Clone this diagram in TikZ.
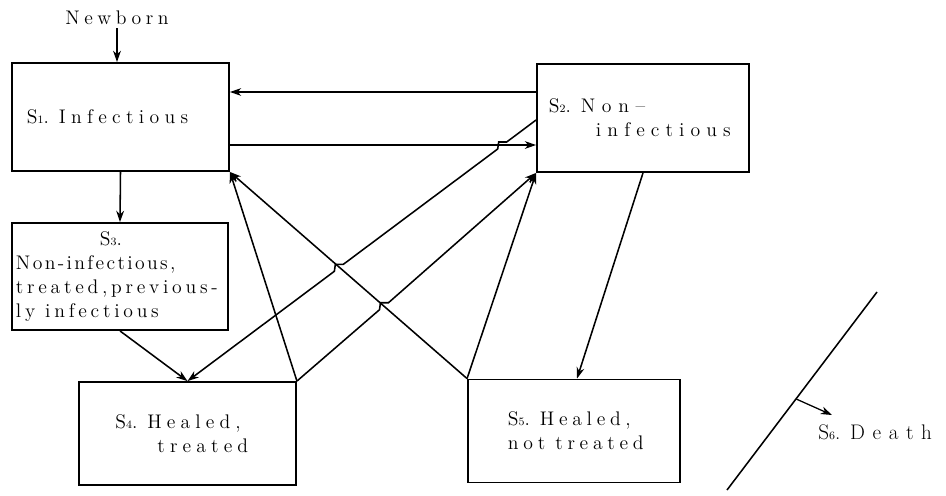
\documentclass[tikz,border=0pt]{standalone}
\usepackage{fontspec}
\setmainfont{Latin Modern Roman}
\usetikzlibrary{arrows.meta,calc}
\hyphenpenalty=10000
\exhyphenpenalty=10000
\newcommand{\sname}[1]{S{\footnotesize #1}}
\newcommand{\spc}[1]{\addfontfeatures{LetterSpace=#1}}
\protected\def\lblfont#1{\fontsize{14}{17}\selectfont\addfontfeatures{LetterSpace=#1}%
	\spaceskip=7pt\relax\xspaceskip=7pt\relax}
\tikzset{
	lbl/.style={inner sep=0pt, font=\lblfont{#1}},
	lbl/.default=20,
	state/.style={lbl=#1, draw, line width=1.3pt, align=left},
	state/.default=20,
	flow/.style={line width=1.1pt, -{Stealth[length=8pt,width=5.5pt,inset=2.5pt]}},
	plain/.style={line width=1.1pt}
}

\begin{document}
\begin{tikzpicture}[x=0.025cm, y=-0.025cm]
	\useasboundingbox (0,0) rectangle (946,495);

	% states
	\node[state=27, minimum width=5.425cm, minimum height=2.7cm, text width=4.675cm] (s1) at (120.5,117) {\sname{1}. Infectious};
	\node[state=34, minimum width=5.3cm, minimum height=2.7cm, text width=4.7cm] (s2) at (643,118) {\sname{2}. Non--\\\hspace*{1.175cm}{\spc{31}infectious}};
	\node[state=19, minimum width=5.4cm, minimum height=2.675cm, text width=5.2cm] (s3) at (120,276.5) {\hspace*{2.1cm}\sname{3}.\\{\spc{12}Non-infectious,}\\treated,previous-\\ly\hspace{0.25cm}infectious};
	\node[state=26, minimum width=5.425cm, minimum height=2.575cm, text width=3.5cm] (s4) at (187.5,433.5) {\hspace*{-0.05cm}\sname{4}. Healed,\\\hspace*{1cm}treated};
	\node[state=24, minimum width=5.3cm, minimum height=2.575cm, text width=4.3cm] (s5) at (574,431) {\hspace*{0.5cm}\sname{5}. Healed,\\\hspace*{0.5cm}not\hspace{0.25cm}treated};
	\node[lbl=23] (newborn) at (117,18) {Newborn};
	\node[lbl, anchor=west, font={\lblfont{36}\fontsize{15}{18}\selectfont}] (death) at (818,432) {\sname{6}. Death};

	% helper points
	\coordinate (a2) at ([yshift=-0.05cm]s2.west);
	\coordinate (b2) at ([yshift=0.65cm]s2.west);
	\coordinate (h1) at ([yshift=-0.7cm]s1.east);
	\coordinate (h2) at (h1 -| s2.west);
	\coordinate (xa) at (intersection of a2--s4.north and h1--h2);
	\coordinate (xb) at (intersection of a2--s4.north and s5.north west--s1.south east);
	\coordinate (xc) at (intersection of s4.north east--s2.south west and s5.north west--s1.south east);
	\coordinate (d1) at (727,490);
	\coordinate (d2) at (877,292);
	\coordinate (dtip) at (832,415);

	% transitions
	\draw[flow, line width=1.6pt, shorten <=2pt] (newborn) -- (newborn |- s1.north);
	\draw[flow] (b2) -- (b2 -| s1.east);
	\draw[flow] (h1) -- (h2);
	\draw[flow] (s1.south) -- (s3.north);
	\draw[flow] (s3.south) -- (s4.north);
	\draw[flow] (s4.north east) -- (s1.south east);
	\draw[flow] (s5.north west) -- (s1.south east);
	\draw[flow] (s5.north west) -- (s2.south west);
	\draw[flow] (s2.south) -- ([xshift=0.075cm]s5.north);
	\draw[flow] (a2) -- ($(xa)+(4,-3)$) -- ($(xa)+(-4,-3)$) -- ($(xa)+(-5,4)$)
		-- ($(xb)+(4,-3)$) -- ($(xb)+(-4,-3)$) -- ($(xb)+(-5,4)$) -- (s4.north);
	\draw[flow] (s4.north east) -- ($(xc)+(-4,4)$) -- ($(xc)+(-3,-3)$) -- ($(xc)+(5,-3)$) -- (s2.south west);

	% death
	\draw[plain] (d1) -- (d2);
	\draw[flow, line width=0.9pt] ($(d1)!0.46!(d2)$) -- (dtip);
\end{tikzpicture}
\end{document}
